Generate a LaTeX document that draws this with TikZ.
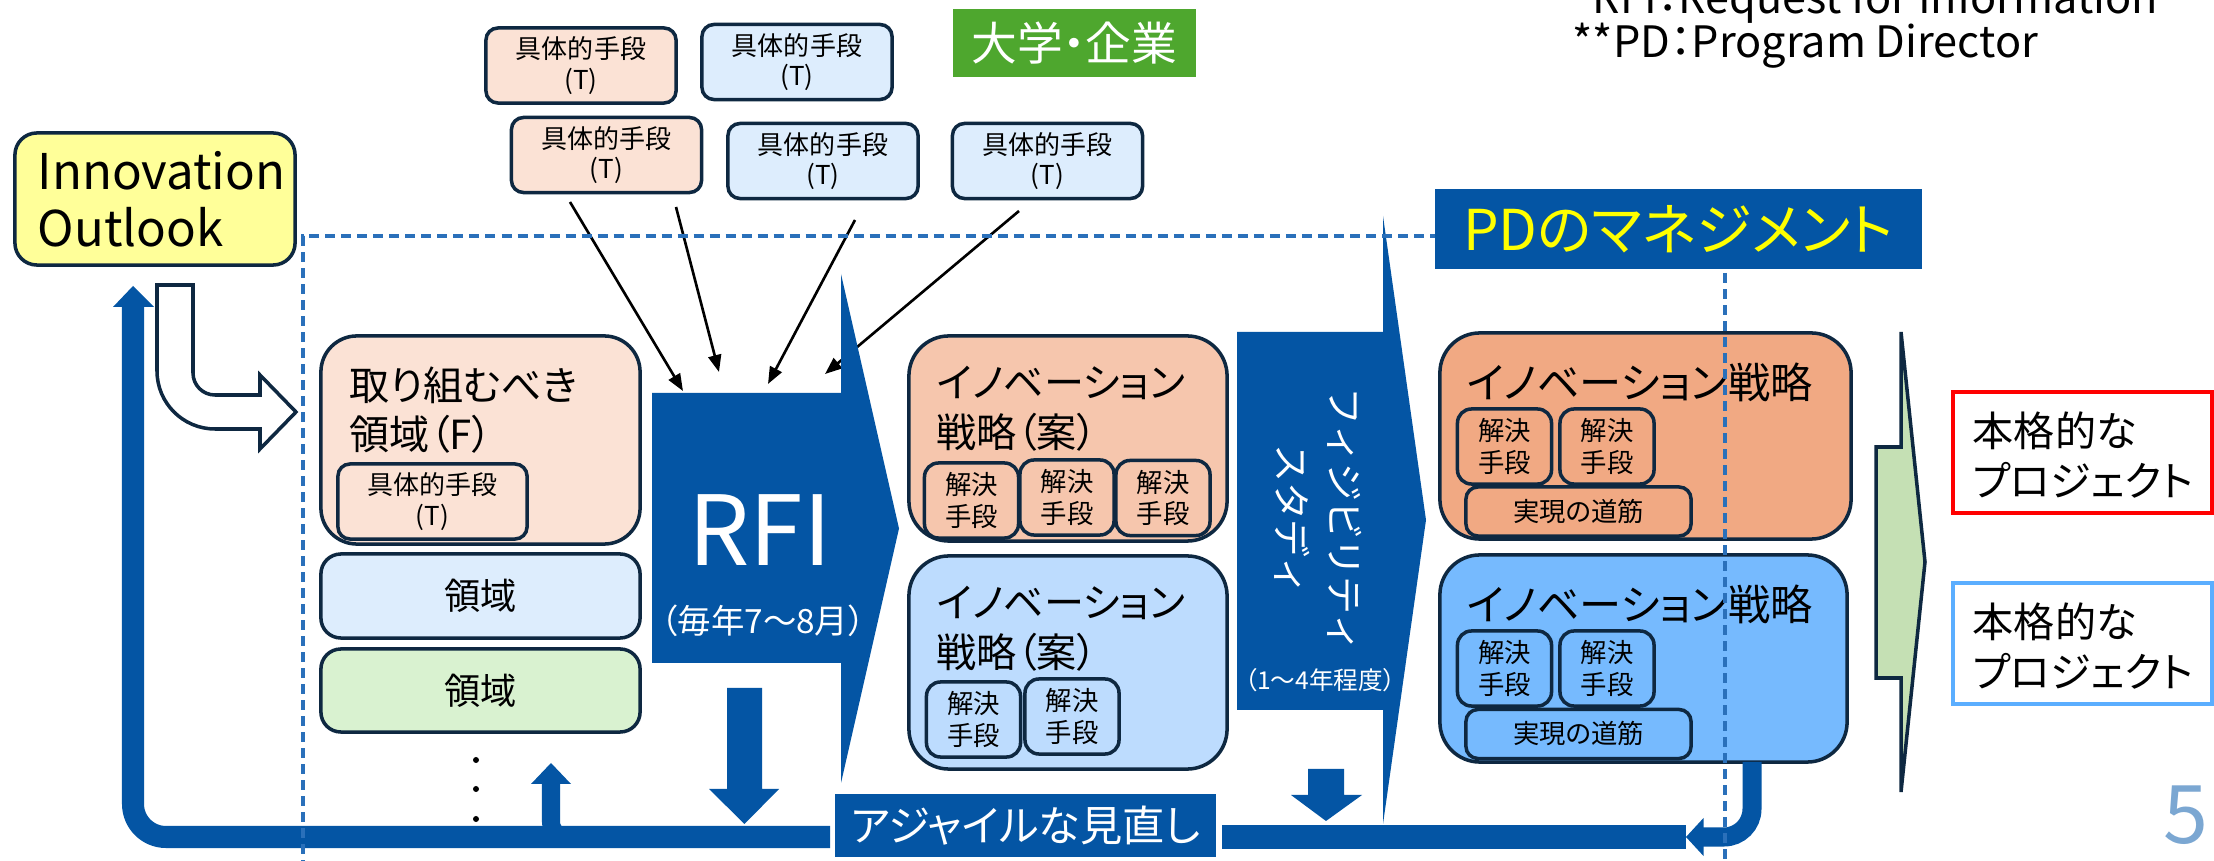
\documentclass[tikz,border=0pt]{standalone}
\usepackage{fontspec}
\setmainfont{Noto Sans CJK JP}[RawFeature=+palt]
\newfontfamily\jpfull{Noto Sans CJK JP}
\usetikzlibrary{arrows.meta,calc}
\newcommand\fsz[2]{\fontsize{#1pt}{#2pt}\selectfont}
\newcommand\cj[1]{\makebox[1em]{#1}}
\definecolor{cDblue}{HTML}{0455A4}
\definecolor{navy}{HTML}{0E2841}
\definecolor{cPeach}{HTML}{FBE2D5}
\definecolor{cLblue}{HTML}{DDEDFD}
\definecolor{cLgreen}{HTML}{D9F2D0}
\definecolor{cPeachB}{HTML}{F6C6AD}
\definecolor{cBlueB}{HTML}{BDDCFE}
\definecolor{cOrange}{HTML}{F1A983}
\definecolor{cBlueC}{HTML}{76BAFE}
\definecolor{cYellow}{HTML}{FFFF99}
\definecolor{cGreenT}{HTML}{4EA72E}
\definecolor{cGreenA}{HTML}{C5E0B4}
\definecolor{cPBlue}{HTML}{5BAEFF}
\definecolor{cFive}{HTML}{7BA7D2}
\definecolor{cDash}{HTML}{2A70BA}
\definecolor{cYel}{HTML}{FFFF00}
\begin{document}
\begin{tikzpicture}[x=0.01cm,y=-0.01cm,
  bx/.style={draw=navy, line width=1pt, inner sep=0pt, align=center},
  tbox/.style={bx, rounded corners=0.12cm, minimum width=1.9cm, minimum height=0.75cm, font=\fsz{7.4}{8.6}},
  sbox/.style={bx, rounded corners=0.14cm, minimum width=0.94cm, minimum height=0.75cm, font=\fsz{7.5}{9}},
  rbox/.style={bx, rounded corners=0.12cm, minimum width=2.25cm, minimum height=0.49cm, font=\fsz{7.5}{9}},
  bigbox/.style={bx, rounded corners=0.4cm},
  lbl/.style={inner sep=0pt, align=left, anchor=west},
  wlbl/.style={inner sep=0pt, text=white, align=center},
  blk/.style={draw=black, line width=0.75pt, -{Triangle[length=0.17cm, width=0.13cm]}},
  dashln/.style={draw=cDash, line width=1pt, dash pattern=on 0.1cm off 0.06cm},
  prj/.style={line width=1.15pt, fill=white, minimum width=2.59cm, minimum height=1.21cm, inner sep=0pt}
]
\useasboundingbox (0,0) rectangle (2214,861);
\fill[white] (0,0) rectangle (2214,861);

% Innovation Outlook
\node[bigbox, rounded corners=0.22cm, fill=cYellow, minimum width=2.8cm, minimum height=1.32cm] (io) at (155,199) {};
\node[lbl, font=\fsz{14}{16.2}] (iot) at (37,199) {Innovation\\Outlook};

% top T boxes
\node[tbox, fill=cPeach] (t1) at (581,65.5) {具体的手段\\(T)};
\node[tbox, fill=cLblue] (t2) at (797,62) {具体的手段\\(T)};
\node[tbox, fill=cPeach] (t3) at (606.5,155) {具体的手段\\(T)};
\node[tbox, fill=cLblue] (t4) at (823,161) {具体的手段\\(T)};
\node[tbox, fill=cLblue] (t5) at (1047.5,161) {具体的手段\\(T)};
\node[fill=cGreenT, minimum width=2.43cm, minimum height=0.68cm, inner sep=0pt, text=white, font=\fsz{13}{15}] (univ) at (1074.5,43) {大学・企業};

% arrows into RFI
\coordinate (s1) at (570,202); \coordinate (e1) at (683,391);
\coordinate (s2) at (676,207); \coordinate (e2) at (719,372);
\coordinate (s3) at (855,220); \coordinate (e3) at (768,384);
\coordinate (s4) at (1019,211); \coordinate (e4) at (825,374);
\draw[blk] (s1) -- (e1);
\draw[blk] (s2) -- (e2);
\draw[blk] (s3) -- (e3);
\draw[blk] (s4) -- (e4);

% RFI arrow
\fill[cDblue] (652,393) -- (841,393) -- (841,274) -- (899,528.5) -- (841,783) -- (841,663) -- (652,663) -- cycle;
\node[wlbl, font=\fsz{27.5}{30}] (rfi) at (760,530) {RFI};
\node[wlbl, font=\fsz{9.5}{10}] (rfim) at (763,621) {（毎年7～8月）};

% white bent arrow
\filldraw[fill=white, draw=navy, line width=1pt] (157,285) -- (193,285) -- (193,373)
  .. controls (193,385.2) and (202.8,395) .. (215,395) -- (260,395) -- (260,375) -- (296,412) -- (260,449) -- (260,429) -- (215,429)
  .. controls (183,429) and (157,403) .. (157,371) -- cycle;

% feedback bar
\coordinate (barL) at (830,837);
\coordinate (corner) at (133,837);
\coordinate (upend) at (133,307);
\draw[cDblue, line width=0.22cm, rounded corners=0.33cm] (barL) -- (corner) -- (upend);
\fill[cDblue] (113,307) -- (154,307) -- (133,286) -- cycle;
\coordinate (barR1) at (1222,837);
\coordinate (barR2) at (1686,837);
\draw[cDblue, line width=0.23cm] (barR1) -- (barR2);
% small up arrow
\draw[cDblue, line width=0.18cm, rounded corners=0.15cm] (595,837) -- (551,837) -- (551,784);
\fill[cDblue] (531,784) -- (571,784) -- (551,763) -- cycle;

% F box
\node[bigbox, rounded corners=0.36cm, fill=cPeach, minimum width=3.19cm, minimum height=2.08cm] (fbox) at (480.5,440) {};
\node[lbl, font=\fsz{11.4}{14}] (ftxt) at (349,410) {取り組むべき\\領域（F）};
\node[tbox, fill=cPeach, minimum width=1.89cm] (tF) at (432.5,501.5) {具体的手段\\(T)};
\node[bx, rounded corners=0.2cm, fill=cLblue, minimum width=3.19cm, minimum height=0.84cm, font=\fsz{10.3}{12}] (ra) at (480.5,596) {領域};
\node[bx, rounded corners=0.2cm, fill=cLgreen, minimum width=3.19cm, minimum height=0.83cm, font=\fsz{10.3}{12}] (rb) at (480.5,690.5) {領域};
\fill (476,760) circle[radius=0.03cm];
\fill (476,789) circle[radius=0.03cm];
\fill (476,819) circle[radius=0.03cm];

% down arrows
\fill[cDblue] (727,688) -- (762,688) -- (762,789) -- (779,789) -- (744.5,824) -- (709,789) -- (727,789) -- cycle;
\fill[cDblue] (1308,769) -- (1344,769) -- (1344,795) -- (1362,795) -- (1326,821) -- (1291,795) -- (1308,795) -- cycle;

% draft strategies
\node[bigbox, fill=cPeachB, minimum width=3.18cm, minimum height=2.05cm] (dA) at (1068,438.5) {};
\node[lbl, font=\fsz{11.4}{14.2}] (dAt) at (936,408.5) {イノベーション\\戦略（案）};
\node[sbox, fill=cPeachB] (dA1) at (971.5,500.5) {解決\\手段};
\node[sbox, fill=cPeachB] (dA2) at (1067,497.5) {解決\\手段};
\node[sbox, fill=cPeachB] (dA3) at (1163,498) {解決\\手段};
\node[bigbox, fill=cBlueB, minimum width=3.18cm, minimum height=2.13cm] (dB) at (1068,662.5) {};
\node[lbl, font=\fsz{11.4}{14.2}] (dBt) at (936,629) {イノベーション\\戦略（案）};
\node[sbox, fill=cBlueB] (dB1) at (973.5,719.5) {解決\\手段};
\node[sbox, fill=cBlueB] (dB2) at (1072,716.5) {解決\\手段};

% feasibility arrow
\fill[cDblue] (1237,332) -- (1383,332) -- (1383,216) -- (1426,520) -- (1383,824) -- (1383,710) -- (1237,710) -- cycle;
\node[wlbl, rotate=-90, font=\jpfull\fsz{10.8}{15}] (fs) at (1318.5,520) {\cj{フ}\cj{ィ}\cj{ジ}\cj{ビ}\cj{リ}\cj{テ}\cj{ィ}\\\cj{ス}\cj{タ}\cj{デ}\cj{ィ}};
\node[wlbl, font=\fsz{7}{8}] (fsy) at (1320,680) {（1～4年程度）};

% final strategies
\node[bigbox, fill=cOrange, minimum width=4.11cm, minimum height=2.06cm] (fA) at (1645.5,436) {};
\node[lbl, font=\fsz{12}{14}] (fAt) at (1466,382) {イノベーション戦略};
\node[sbox, fill=cOrange] (fA1) at (1504.5,446.5) {解決\\手段};
\node[sbox, fill=cOrange] (fA2) at (1607,446.5) {解決\\手段};
\node[rbox, fill=cOrange] (fAr) at (1578.5,511.5) {実現の道筋};
\node[bigbox, fill=cBlueC, minimum width=4.07cm, minimum height=2.07cm] (fB) at (1643.5,658.5) {};
\node[lbl, font=\fsz{12}{14}] (fBt) at (1466,604) {イノベーション戦略};
\node[sbox, fill=cBlueC] (fB1) at (1504.5,668.5) {解決\\手段};
\node[sbox, fill=cBlueC] (fB2) at (1607,668.5) {解決\\手段};
\node[rbox, fill=cBlueC] (fBr) at (1578.5,734) {実現の道筋};

% elbow back arrow
\coordinate (elS) at (1752,762);
\coordinate (elC) at (1752,837);
\coordinate (elE) at (1703,837);
\draw[cDblue, line width=0.19cm, rounded corners=0.28cm] (elS) -- (elC) -- (elE);
\fill[cDblue] (1703.5,818) -- (1703.5,856) -- (1686,837) -- cycle;

% green arrow
\filldraw[fill=cGreenA, draw=navy, line width=1pt] (1876,447) -- (1901,447) -- (1901,332) -- (1925,562) -- (1901,792) -- (1901,678) -- (1876,678) -- cycle;

% projects
\node[prj, draw=red] (pA) at (2082.5,452.5) {};
\node[lbl, font=\fsz{11.7}{14.2}] (pAt) at (1972,455) {本格的な\\プロジェクト};
\node[prj, draw=cPBlue] (pB) at (2082.5,643.5) {};
\node[lbl, font=\fsz{11.7}{14.2}] (pBt) at (1972,646) {本格的な\\プロジェクト};
\node[inner sep=0pt, text=cFive, font=\fsz{23}{26}] (pg) at (2186,815) {5};

% agile
\node[fill=cDblue, text=white, minimum width=3.81cm, minimum height=0.63cm, inner sep=0pt, font=\fsz{12}{14}] (agile) at (1025.5,825.5) {アジャイルな見直し};

% notes
\node[anchor=base west, inner sep=0pt, font=\fsz{12.3}{13}] (n1) at (1572,14) {*RFI：Request for Information};
\node[anchor=base west, inner sep=0pt, font=\fsz{12.3}{13}] (n2) at (1572,58) {**PD：Program Director};

% dashed frame
\draw[dashln] (303,870) -- (303,236) -- (1435,236);
\draw[dashln] (1725,273) -- (1725,870);

% PD box
\node[fill=cDblue, text=cYel, minimum width=4.87cm, minimum height=0.8cm, inner sep=0pt, font=\fsz{16}{18}] (pd) at (1678.5,229) {PDのマネジメント};
\end{tikzpicture}
\end{document}
